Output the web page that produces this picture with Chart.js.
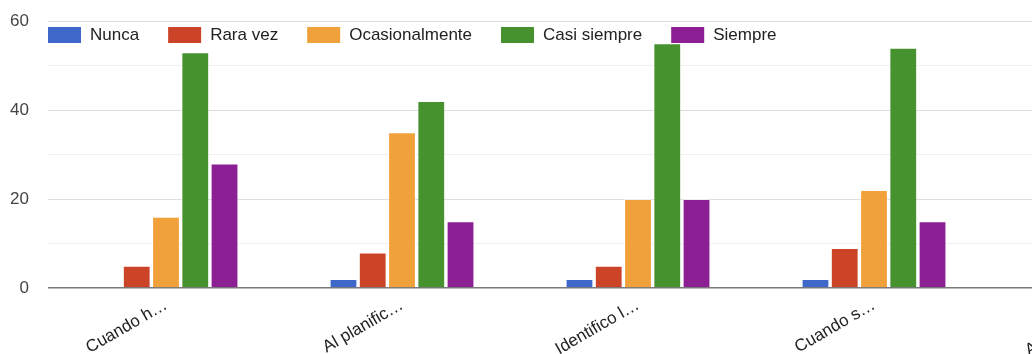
<!DOCTYPE html>
<html>
<head>
<meta charset="utf-8">
<script src="https://cdn.jsdelivr.net/npm/chart.js@4.4.1/dist/chart.umd.min.js"></script>
<style>
  html, body { margin: 0; padding: 0; background: #ffffff; overflow: hidden; }
  #wrap { width: 1032px; height: 354px; overflow: hidden; }
  canvas { display: block; }
</style>
</head>
<body>
<div id="wrap"><canvas id="chart" width="1240" height="354" style="width:1240px;height:354px"></canvas></div>
<script>
// Question labels (shortened, as shown on the axis)
const categories = ['Cuando h…', 'Al planific…', 'Identifico l…', 'Cuando s…', 'Al revisar l…'];

// Number of responses per answer option
const nunca          = [0, 2, 2, 2, 1];
const raraVez        = [5, 8, 5, 9, 6];
const ocasionalmente = [16, 35, 20, 22, 25];
const casiSiempre    = [53, 42, 55, 54, 50];
const siempre        = [28, 15, 20, 15, 20];

const seriesNames = ['Nunca', 'Rara vez', 'Ocasionalmente', 'Casi siempre', 'Siempre'];
const seriesColors = ['#3e69ca', '#cc4427', '#f1a13a', '#45922f', '#8b1f93'];
const seriesValues = [nunca, raraVez, ocasionalmente, casiSiempre, siempre];

// Y axis ticks: a line every 10, a label every 20
const yTicks = [0, 10, 20, 30, 40, 50, 60];
const yLabelled = [0, 20, 40, 60];

const FONT = '"Liberation Sans", Arial, sans-serif';

// Legend drawn inside the plot, across its top-left corner
const inlineLegend = {
  id: 'inlineLegend',
  afterDatasetsDraw(chart) {
    const { ctx, chartArea } = chart;
    ctx.save();
    ctx.font = '17px ' + FONT;
    ctx.textBaseline = 'middle';
    ctx.textAlign = 'left';
    let x = chartArea.left;
    const boxTop = chartArea.top + 6;
    const boxW = 33, boxH = 16;
    chart.data.datasets.forEach(ds => {
      ctx.fillStyle = ds.backgroundColor;
      ctx.fillRect(x, boxTop, boxW, boxH);
      ctx.fillStyle = '#222222';
      ctx.fillText(ds.label, x + boxW + 9, boxTop + boxH / 2 + 0.5);
      x += boxW + 9 + ctx.measureText(ds.label).width + 29;
    });
    ctx.restore();
  }
};

new Chart(document.getElementById('chart'), {
  type: 'bar',
  data: {
    labels: categories,
    datasets: seriesNames.map((name, i) => ({
      label: name,
      data: seriesValues[i],
      backgroundColor: seriesColors[i],
      borderColor: 'rgba(255,255,255,0.45)',
      borderWidth: 1,
      borderSkipped: 'bottom',
      categoryPercentage: 0.62,
      barPercentage: 0.95
    }))
  },
  options: {
    responsive: false,
    devicePixelRatio: 1,
    animation: false,
    layout: { padding: { top: 21, right: 12, left: 0, bottom: 0 } },
    plugins: {
      legend: { display: false },
      tooltip: { enabled: false }
    },
    scales: {
      x: {
        grid: { display: false, drawTicks: false },
        border: { display: false },
        ticks: {
          autoSkip: false,
          minRotation: 30,
          maxRotation: 30,
          padding: 7,
          color: '#222222',
          font: { family: FONT, size: 17 }
        },
        afterFit(scale) {
          scale.height = 66;
          scale.paddingLeft = 0;
          scale.paddingRight = 0;
        }
      },
      y: {
        min: 0,
        max: 60,
        afterBuildTicks(scale) {
          scale.ticks = yTicks.map(v => ({ value: v }));
        },
        grid: {
          drawTicks: false,
          color: ctx => {
            const v = ctx.tick.value;
            if (v === 0) return '#7a7a7a';
            return yLabelled.includes(v) ? '#dedede' : '#efefef';
          },
          lineWidth: ctx => ctx.tick.value === 0 ? 1.6 : 1
        },
        border: { display: false },
        ticks: {
          padding: 19,
          color: '#444444',
          font: { family: FONT, size: 17 },
          callback: v => yLabelled.includes(v) ? String(v) : ''
        },
        afterFit(scale) {
          scale.width = 48;
          scale.paddingTop = 0;
          scale.paddingBottom = 0;
        }
      }
    }
  },
  plugins: [inlineLegend]
});
</script>
</body>
</html>
